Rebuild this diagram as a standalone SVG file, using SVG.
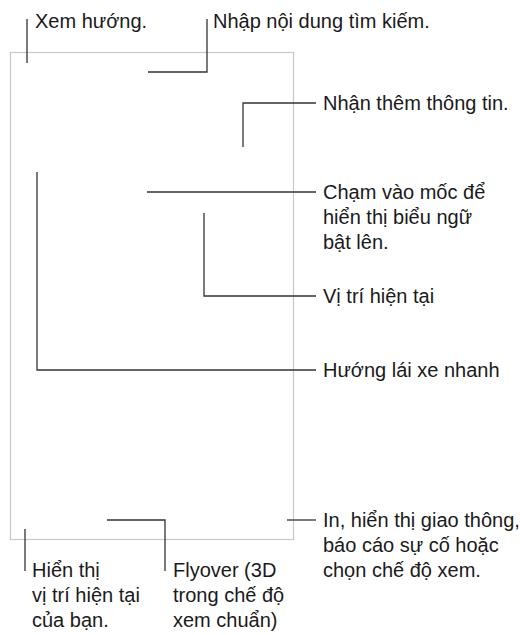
<svg xmlns="http://www.w3.org/2000/svg" width="520" height="635" viewBox="0 0 520 635">
<style>
.frame{fill:none;stroke:#c8c8c8;stroke-width:1.2}
.lead{fill:none;stroke:#333;stroke-width:1.3}
text{font-family:"Liberation Sans",Arial,Helvetica,sans-serif;font-size:20px;fill:#1a1a1a}
</style>
<rect width="520" height="635" fill="#fff"/>
<g id="screen"><rect class="frame" x="10.5" y="52.5" width="283" height="487"/></g>
<g id="connectors">
<path class="lead" d="M27 19V63"/>
<path class="lead" d="M207 19V72H148"/>
<path class="lead" d="M316 103H243V147"/>
<path class="lead" d="M147 192H316"/>
<path class="lead" d="M204 213V296H316"/>
<path class="lead" d="M37 172V370H316"/>
<path class="lead" d="M287 520H316"/>
<path class="lead" d="M107 520H165V571"/>
<path class="lead" d="M25 529V571"/>
</g>
<g id="label-directions"><text x="35" y="28">Xem hướng.</text></g>
<g id="label-search"><text x="213" y="28">Nhập nội dung tìm kiếm.</text></g>
<g id="label-info"><text x="323" y="110">Nhận thêm thông tin.</text></g>
<g id="label-pin"><text x="323" y="199">Chạm vào mốc để</text><text x="323" y="224">hiển thị biểu ngữ</text><text x="323" y="249">bật lên.</text></g>
<g id="label-current"><text x="323" y="303">Vị trí hiện tại</text></g>
<g id="label-quick"><text x="323" y="377">Hướng lái xe nhanh</text></g>
<g id="label-options"><text x="323" y="527">In, hiển thị giao thông,</text><text x="323" y="552">báo cáo sự cố hoặc</text><text x="323" y="577">chọn chế độ xem.</text></g>
<g id="label-location"><text x="32" y="577">Hiển thị</text><text x="32" y="602">vị trí hiện tại</text><text x="32" y="627">của bạn.</text></g>
<g id="label-flyover"><text x="173" y="577">Flyover (3D</text><text x="173" y="602">trong chế độ</text><text x="173" y="627">xem chuẩn)</text></g>
</svg>
